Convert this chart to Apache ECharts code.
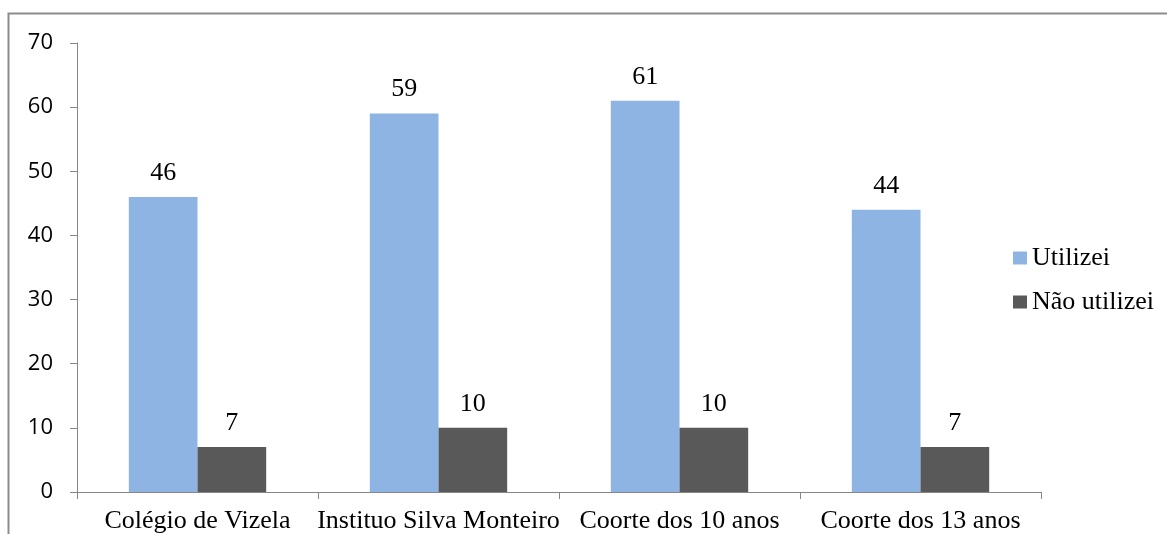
<!DOCTYPE html>
<html>
<head>
<meta charset="utf-8">
<script src="https://cdn.jsdelivr.net/npm/echarts@6/dist/echarts.min.js"></script>
<style>
html, body { margin: 0; padding: 0; background: #fff; overflow: hidden; }
#chart { width: 1167px; height: 534px; }
</style>
</head>
<body>
<div id="chart"></div>
<script>
// dados
var categorias = ["Colégio de Vizela", "Instituo Silva Monteiro", "Coorte dos 10 anos", "Coorte dos 13 anos"];
var utilizei = [46, 59, 61, 44];
var naoUtilizei = [7, 10, 10, 7];
var nomesSeries = ["Utilizei", "Não utilizei"];

var serif = "'Liberation Serif', 'Times New Roman', serif";
var sans = "'Open Sans', 'Liberation Sans', sans-serif";
var axisColor = "#868686";

var myChart = echarts.init(document.getElementById("chart"));
myChart.setOption({
  animation: false,
  color: ["#8EB4E3", "#595959"],
  graphic: [
    {
      type: "rect",
      shape: { x: 8.5, y: 13.5, width: 1400, height: 800 },
      style: { fill: "none", stroke: "#8c8c8c", lineWidth: 2 },
      silent: true
    }
  ],
  legend: {
    orient: "vertical",
    left: 1008,
    top: 240,
    itemWidth: 14,
    itemHeight: 13,
    itemGap: 18,
    icon: "rect",
    textStyle: { fontFamily: serif, fontSize: 26, color: "#000" },
    data: nomesSeries
  },
  grid: {
    left: 77,
    right: 126,
    top: 43,
    bottom: 42
  },
  xAxis: {
    type: "category",
    data: categorias,
    axisLine: { lineStyle: { color: axisColor, width: 1 } },
    axisTick: { show: true, length: 7, lineStyle: { color: axisColor } },
    axisLabel: { fontFamily: serif, fontSize: 26, color: "#000", margin: 16, interval: 0 }
  },
  yAxis: {
    type: "value",
    min: 0,
    max: 70,
    interval: 10,
    splitLine: { show: false },
    axisLine: { show: true, lineStyle: { color: axisColor, width: 1 } },
    axisTick: { show: true, length: 7, lineStyle: { color: axisColor } },
    axisLabel: { fontFamily: sans, fontSize: 22, color: "#000", margin: 24 }
  },
  series: [
    {
      name: nomesSeries[0],
      type: "bar",
      data: utilizei,
      barGap: "0%",
      barCategoryGap: "43%",
      label: { show: true, position: "top", distance: 11, fontFamily: serif, fontSize: 26, color: "#000" }
    },
    {
      name: nomesSeries[1],
      type: "bar",
      data: naoUtilizei,
      label: { show: true, position: "top", distance: 11, fontFamily: serif, fontSize: 26, color: "#000" }
    }
  ]
});
</script>
</body>
</html>
